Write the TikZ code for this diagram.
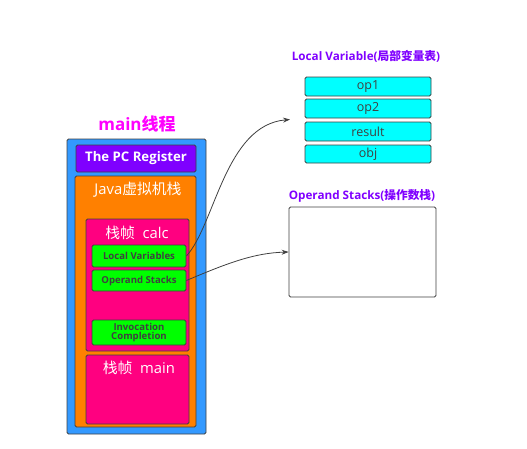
\documentclass[tikz,border=0pt]{standalone}
\usepackage{fontspec}
\setmainfont{Open Sans}
\newfontfamily\cjk{Noto Sans CJK SC}
\newfontfamily\cjkb{Noto Sans CJK SC Bold}
\usetikzlibrary{arrows.meta}
\definecolor{outerblue}{HTML}{3399FF}
\definecolor{pcpurple}{HTML}{7F00FF}
\definecolor{jvmorange}{HTML}{FF8000}
\definecolor{framepink}{HTML}{FF0080}
\definecolor{slotgreen}{HTML}{00FF00}
\definecolor{slotcyan}{HTML}{00FFFF}
\definecolor{titlemag}{HTML}{FF00FF}
\definecolor{titlepurple}{HTML}{8000FF}
\definecolor{edgegray}{HTML}{404040}
\tikzset{
  boxbase/.style={draw=edgegray, line width=0.8pt, rounded corners=1.5pt, inner sep=0pt},
  greenbox/.style={boxbase, fill=slotgreen, text=edgegray, font=\bfseries\fontsize{9.6}{11}\selectfont, align=center},
  cyanbox/.style={boxbase, fill=slotcyan, text=edgegray, font=\fontsize{12.5}{13}\selectfont},
  conn/.style={draw=edgegray, line width=0.8pt, -{Stealth[length=7pt,width=5pt]}},
}
\begin{document}
\begin{tikzpicture}[x=1pt,y=-1pt]
\useasboundingbox (0,0) rectangle (527,448);
% main thread
\node[font=\bfseries\fontsize{17}{18}\selectfont, text=titlemag] (title) at (137,124) {main{\cjkb 线程}};
\node[boxbase, fill=outerblue, minimum width=139pt, minimum height=295pt] (outer) at (136.5,286.5) {};
\node[boxbase, fill=pcpurple, minimum width=120pt, minimum height=27pt, text=white, font=\bfseries\fontsize{13.2}{14}\selectfont] (pc) at (136,158.5) {The PC Register};
\node[boxbase, fill=jvmorange, minimum width=121pt, minimum height=251pt] (jvm) at (135.5,301.5) {};
\node[text=white, font=\fontsize{14.8}{16}\selectfont] (jvmlabel) at (138,190) {Java{\cjk 虚拟机栈}};
\node[boxbase, fill=framepink, minimum width=103pt, minimum height=132pt] (calc) at (137.5,285) {};
\node[text=white, font=\fontsize{14.8}{16}\selectfont] (calclabel) at (137,233) {{\cjk 栈帧}\ \ calc};
\node[greenbox, minimum width=94pt, minimum height=22pt] (lv) at (139,256) {Local Variables};
\node[greenbox, minimum width=94pt, minimum height=21pt] (os) at (139,280.5) {Operand Stacks};
\node[greenbox, minimum width=94pt, minimum height=25pt] (ic) at (139,332.5) {Invocation\\[-2.5pt]Completion};
\node[boxbase, fill=framepink, minimum width=103pt, minimum height=69pt] (mainf) at (137.5,389.5) {};
\node[text=white, font=\fontsize{14.8}{16}\selectfont] (mainlabel) at (139,368) {{\cjk 栈帧}\ \ main};
% local variable table
\node[font=\bfseries\fontsize{11.7}{13}\selectfont, text=titlepurple] (lvtitle) at (366,56) {Local Variable({\cjkb 局部变量表})};
\node[cyanbox, minimum width=126pt, minimum height=19pt] (op1) at (368,86.5) {op1};
\node[cyanbox, minimum width=126pt, minimum height=19pt] (op2) at (368,108.5) {op2};
\node[cyanbox, minimum width=126pt, minimum height=19pt] (res) at (368,131.5) {result};
\node[cyanbox, minimum width=126pt, minimum height=18pt] (obj) at (368,154) {obj};
\coordinate (lvin) at (290,119.5);
% operand stack
\node[font=\bfseries\fontsize{11.7}{13}\selectfont, text=titlepurple] (ostitle) at (362,196) {Operand Stacks({\cjkb 操作数栈})};
\node[boxbase, fill=white, minimum width=147pt, minimum height=90pt] (osbox) at (362.5,252) {};
% connectors
\draw[conn] (lv.east) .. controls (215,225) and (225,125) .. (lvin);
\draw[conn] (os.east) .. controls (230,262) and (255,253) .. (osbox.west);
\end{tikzpicture}
\end{document}
